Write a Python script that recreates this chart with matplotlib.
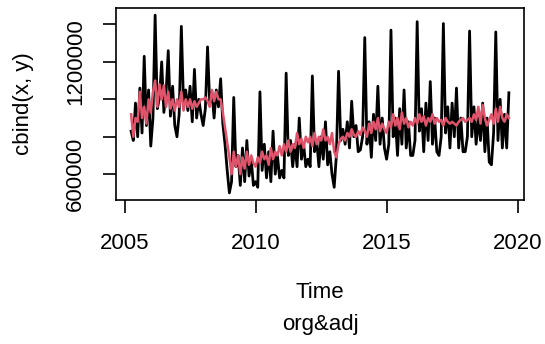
import numpy as np
import matplotlib
matplotlib.use("Agg")
from matplotlib import pyplot as plt

plt.rcParams['font.family'] = ['Liberation Sans', 'DejaVu Sans']

# monthly series, Apr 2005 .. Sep 2019 (thousands)
org = [
    # 2005 Apr-Dec
    830, 780, 980, 800, 1060, 820, 1230, 860, 1050,
    # 2006
    750, 900, 1450, 950, 1010, 1200, 930, 1030, 1260, 910, 1070, 860,
    # 2007
    800, 920, 1390, 980, 1050, 940, 1070, 880, 1160, 900, 1000, 920,
    # 2008
    860, 950, 1280, 980, 1040, 900, 1050, 960, 1110, 870, 760, 620,
    # 2009
    500, 560, 1010, 640, 700, 540, 740, 560, 780, 590, 680, 540,
    # 2010
    560, 530, 1040, 620, 760, 580, 720, 560, 830, 600, 700, 580,
    # 2011
    620, 580, 1140, 700, 780, 640, 760, 640, 900, 680, 760, 640,
    # 2012
    680, 640, 1125, 720, 780, 640, 800, 680, 880, 650, 720, 600,
    # 2013
    530, 700, 1150, 780, 840, 760, 880, 740, 990, 800, 860, 720,
    # 2014
    730, 800, 1330, 760, 880, 690, 920, 780, 1070, 760, 900, 740,
    # 2015
    680, 760, 1370, 800, 900, 700, 950, 760, 1050, 740, 880, 700,
    # 2016
    700, 780, 1415, 830, 950, 720, 980, 780, 1095, 760, 900, 720,
    # 2017
    700, 800, 1405, 820, 960, 740, 980, 800, 1060, 740, 900, 720,
    # 2018
    720, 800, 1365, 800, 960, 760, 900, 780, 980, 720, 900, 665,
    # 2019 Jan-Sep
    650, 820, 1360, 780, 1000, 740, 920, 740, 1035,
]

adj = [
    920, 800, 900, 880, 1040, 900, 960, 870, 1000,
    930, 1040, 1100, 960, 1080, 1000, 1075, 960, 1040, 950, 1000, 940,
    1000, 960, 1040, 940, 1000, 960, 1000, 950, 990, 960, 980, 1000,
    1000, 1010, 990, 960, 1050, 990, 1040, 1000, 1000, 930, 850, 770,
    690, 600, 720, 640, 700, 600, 690, 630, 720, 650, 700, 660,
    640, 690, 660, 720, 680, 700, 650, 740, 680, 720, 700, 750,
    700, 760, 720, 780, 720, 760, 740, 820, 760, 790, 740, 800,
    770, 800, 750, 820, 760, 800, 780, 840, 780, 800, 760, 820,
    720, 690, 760, 790, 800, 780, 820, 800, 840, 810, 800, 830,
    810, 850, 830, 800, 870, 820, 880, 840, 900, 830, 870, 840,
    820, 880, 850, 920, 860, 900, 840, 930, 870, 900, 850, 880,
    860, 900, 870, 920, 880, 910, 860, 900, 880, 920, 870, 900,
    880, 890, 860, 900, 880, 870, 880, 870, 860, 880, 890, 900,
    880, 890, 900, 880, 920, 890, 960, 870, 970, 900, 860, 890,
    920, 870, 950, 880, 960, 900, 880, 920, 900,
]

org = np.array(org) * 1000
adj = np.array(adj) * 1000
t = 2005.25 + np.arange(len(org)) / 12

fig = plt.figure(figsize=(5.45, 3.44), dpi=100)
ax = fig.add_axes([116/545, 1 - 200/344, 408/545, 192/344])

ax.plot(t, org, color="black", lw=2.0)
ax.plot(t, adj, color="#DF536B", lw=1.8)

# R style 4% padding
xr = t[-1] - t[0]
ax.set_xlim(t[0] - 0.04*xr, t[-1] + 0.04*xr)
ax.set_ylim(462000, 1488000)

ax.set_xticks([2005, 2010, 2015, 2020])
yt = [600000, 800000, 1000000, 1200000, 1400000]
ax.set_yticks(yt)
ax.set_yticklabels(["600000", "", "", "1200000", ""], rotation=90, va="center")

ax.tick_params(axis="both", length=9.5, width=1.2, labelsize=16, direction="out")
ax.tick_params(axis="y", pad=12)
ax.tick_params(axis="x", pad=14)
for s in ax.spines.values():
    s.set_linewidth(1.2)

fig.text(320/545, 1 - 298/344, "Time", ha="center", va="baseline", fontsize=16)
fig.text(320/545, 1 - 330/344, "org&adj", ha="center", va="baseline", fontsize=16)
fig.text(23/545, 1 - 104/344, "cbind(x, y)", ha="center", va="center",
         rotation=90, fontsize=16)

fig.savefig("out.png", dpi=100)
